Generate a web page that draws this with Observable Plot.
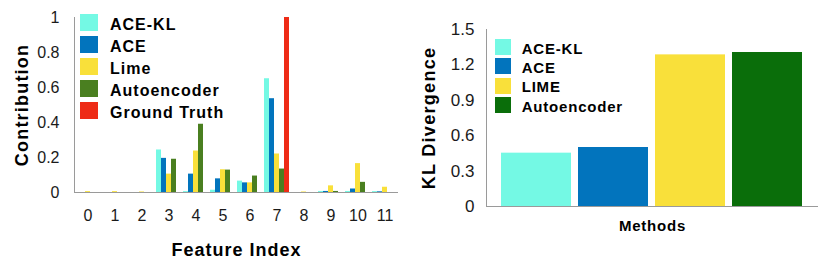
<!DOCTYPE html>
<html>
<head>
<meta charset="utf-8">
<script src="https://cdn.jsdelivr.net/npm/d3@7"></script>
<script src="https://cdn.jsdelivr.net/npm/@observablehq/plot@0.6"></script>
<style>
  html, body { margin: 0; padding: 0; background: #fff; }
  #wrap { position: relative; width: 830px; height: 267px; font-family: "Liberation Sans", Arial, sans-serif; }
  #left, #right { position: absolute; top: 0; }
  #left { left: 0; width: 420px; height: 267px; }
  #right { left: 420px; width: 410px; height: 267px; }
  #left svg, #right svg { font-family: "Liberation Sans", Arial, sans-serif; }
  svg g[aria-label$="axis label"] text { font-weight: bold; fill: #000; }
  .leg { position: absolute; left: 0; top: 0; }
  .sw { position: absolute; }
  .lt { position: absolute; font-weight: bold; color: #000; white-space: nowrap; }
</style>
</head>
<body>
<div id="wrap"><div id="left"></div><div id="right"></div></div>
<script>
// ---------- data: left chart ----------
const features = [0, 1, 2, 3, 4, 5, 6, 7, 8, 9, 10, 11];
const seriesLeft = ["ACE-KL", "ACE", "Lime", "Autoencoder", "Ground Truth"];
const colorsLeft = ["#74f9e4", "#0274bd", "#f9e03a", "#4a7f20", "#ee2b16"];
const aceKL       = [0, 0, 0, 0.243, 0.005, 0.013, 0.065, 0.65, 0, 0.006, 0.006, 0.005];
const ace         = [0, 0, 0, 0.195, 0.105, 0.078, 0.055, 0.536, 0, 0.006, 0.02, 0.004];
const lime        = [0.005, 0.005, 0.003, 0.105, 0.237, 0.13, 0.055, 0.22, 0.003, 0.038, 0.165, 0.03];
const autoenc     = [0, 0, 0, 0.19, 0.39, 0.128, 0.094, 0.134, 0, 0.006, 0.058, 0];
const groundTruth = [0, 0, 0, 0, 0, 0, 0, 1, 0, 0, 0, 0];
const leftTicks = [0, 0.2, 0.4, 0.6, 0.8, 1];

// ---------- data: right chart ----------
const methods = ["ACE-KL", "ACE", "LIME", "Autoencoder"];
const colorsRight = ["#74f9e4", "#0274bd", "#f9e03a", "#0a6e0a"];
const klDivergence = [0.452, 0.50, 1.285, 1.305];
const rightTicks = [0, 0.3, 0.6, 0.9, 1.2, 1.5];

const leftValues = [aceKL, ace, lime, autoenc, groundTruth];
const leftRows = [];
features.forEach((f, i) => {
  seriesLeft.forEach((s, k) => leftRows.push({feature: f, series: s, value: leftValues[k][i]}));
});
const rightRows = methods.map((m, i) => ({method: m, value: klDivergence[i]}));

const font = "'Liberation Sans', Arial, sans-serif";

const left = Plot.plot({
  width: 420, height: 267,
  marginLeft: 70, marginRight: 18, marginTop: 17, marginBottom: 75,
  style: {fontFamily: font, color: "#1a1a1a", background: "transparent", overflow: "visible"},
  fx: {domain: features, paddingInner: 0, paddingOuter: 0, range: [70, 402]},
  x: {domain: seriesLeft, axis: null, paddingInner: 0.04, paddingOuter: 0.02},
  y: {domain: [0, 1], axis: null},
  color: {domain: seriesLeft, range: colorsLeft},
  marks: [
    Plot.frame({anchor: "left", facetAnchor: "left", stroke: "#9a9a9a"}),
    Plot.axisY({ticks: leftTicks, tickFormat: d => `${d}`, tickSize: 0, tickPadding: 15, fontSize: 16, fill: "#1a1a1a",
      label: "Contribution", labelAnchor: "center", labelOffset: 59, labelArrow: "none"}),
    Plot.axisFx({anchor: "bottom", tickSize: 0, tickPadding: 17, fontSize: 16, fill: "#1a1a1a",
      label: "Feature Index", labelAnchor: "center", labelOffset: 63}),
    Plot.barY(leftRows, {fx: "feature", x: "series", y: "value", fill: "series"}),
    Plot.ruleY([0], {stroke: "#9a9a9a"})
  ]
});
document.getElementById("left").appendChild(left);

const right = Plot.plot({
  width: 410, height: 267,
  marginLeft: 66, marginRight: 12, marginTop: 29, marginBottom: 61,
  style: {fontFamily: font, color: "#1a1a1a", background: "transparent", overflow: "visible"},
  x: {domain: methods, paddingInner: 0.09, paddingOuter: 0.18, axis: null},
  y: {domain: [0, 1.5], axis: null},
  color: {domain: methods, range: colorsRight},
  marks: [
    Plot.frame({anchor: "left", stroke: "#9a9a9a"}),
    Plot.axisY({ticks: rightTicks, tickFormat: d => `${d}`, tickSize: 0, tickPadding: 12, fontSize: 17, fill: "#1a1a1a",
      label: "KL Divergence", labelAnchor: "center", labelOffset: 64, labelArrow: "none"}),
    Plot.axisX({tickFormat: () => "", tickSize: 0, label: "Methods", labelAnchor: "center", labelOffset: 24}),
    Plot.barY(rightRows, {x: "method", y: "value", fill: "method"}),
    Plot.ruleY([0], {stroke: "#9a9a9a"})
  ]
});
document.getElementById("right").appendChild(right);

// font styling: tick labels vs. axis titles (inline styles)
function styleTexts(svg, tickSize, titleSizes) {
  d3.select(svg).selectAll("text").each(function () {
    const g = this.closest('[aria-label$="axis label"]');
    if (g) {
      const [fs, ls] = titleSizes[g.getAttribute("aria-label")] || [18, 1];
      this.style.fontSize = fs + "px";
      this.style.letterSpacing = ls + "px";
      this.style.fontWeight = "bold";
    } else {
      this.style.fontSize = tickSize + "px";
    }
  });
}
styleTexts(left, 16, {"y-axis label": [18, 1.2], "fx-axis label": [18, 1]});
styleTexts(right, 17, {"y-axis label": [18, 1.3], "x-axis label": [15, 0.8]});

// legends built from the plots' color scales
function legend(container, plot, x0, y0, sw, sh, step, tx, fs, ls, dyText) {
  const scale = plot.scale("color");
  const box = document.createElement("div");
  box.className = "leg";
  scale.domain.forEach((name, i) => {
    const s = document.createElement("div");
    s.className = "sw";
    Object.assign(s.style, {left: x0 + "px", top: (y0 + i * step) + "px", width: sw + "px", height: sh + "px", background: scale.apply(name)});
    const t = document.createElement("div");
    t.className = "lt";
    t.textContent = name;
    Object.assign(t.style, {left: tx + "px", top: (y0 + i * step + dyText) + "px", fontSize: fs + "px", lineHeight: sh + "px", letterSpacing: ls + "px"});
    box.appendChild(s); box.appendChild(t);
  });
  container.appendChild(box);
}
legend(document.getElementById("left"), left, 80, 14, 18, 17, 22, 110, 16, 1, 2);
legend(document.getElementById("right"), right, 75, 39, 16, 16, 19.3, 101.7, 15, 0.8, 1.8);
</script>
</body>
</html>
